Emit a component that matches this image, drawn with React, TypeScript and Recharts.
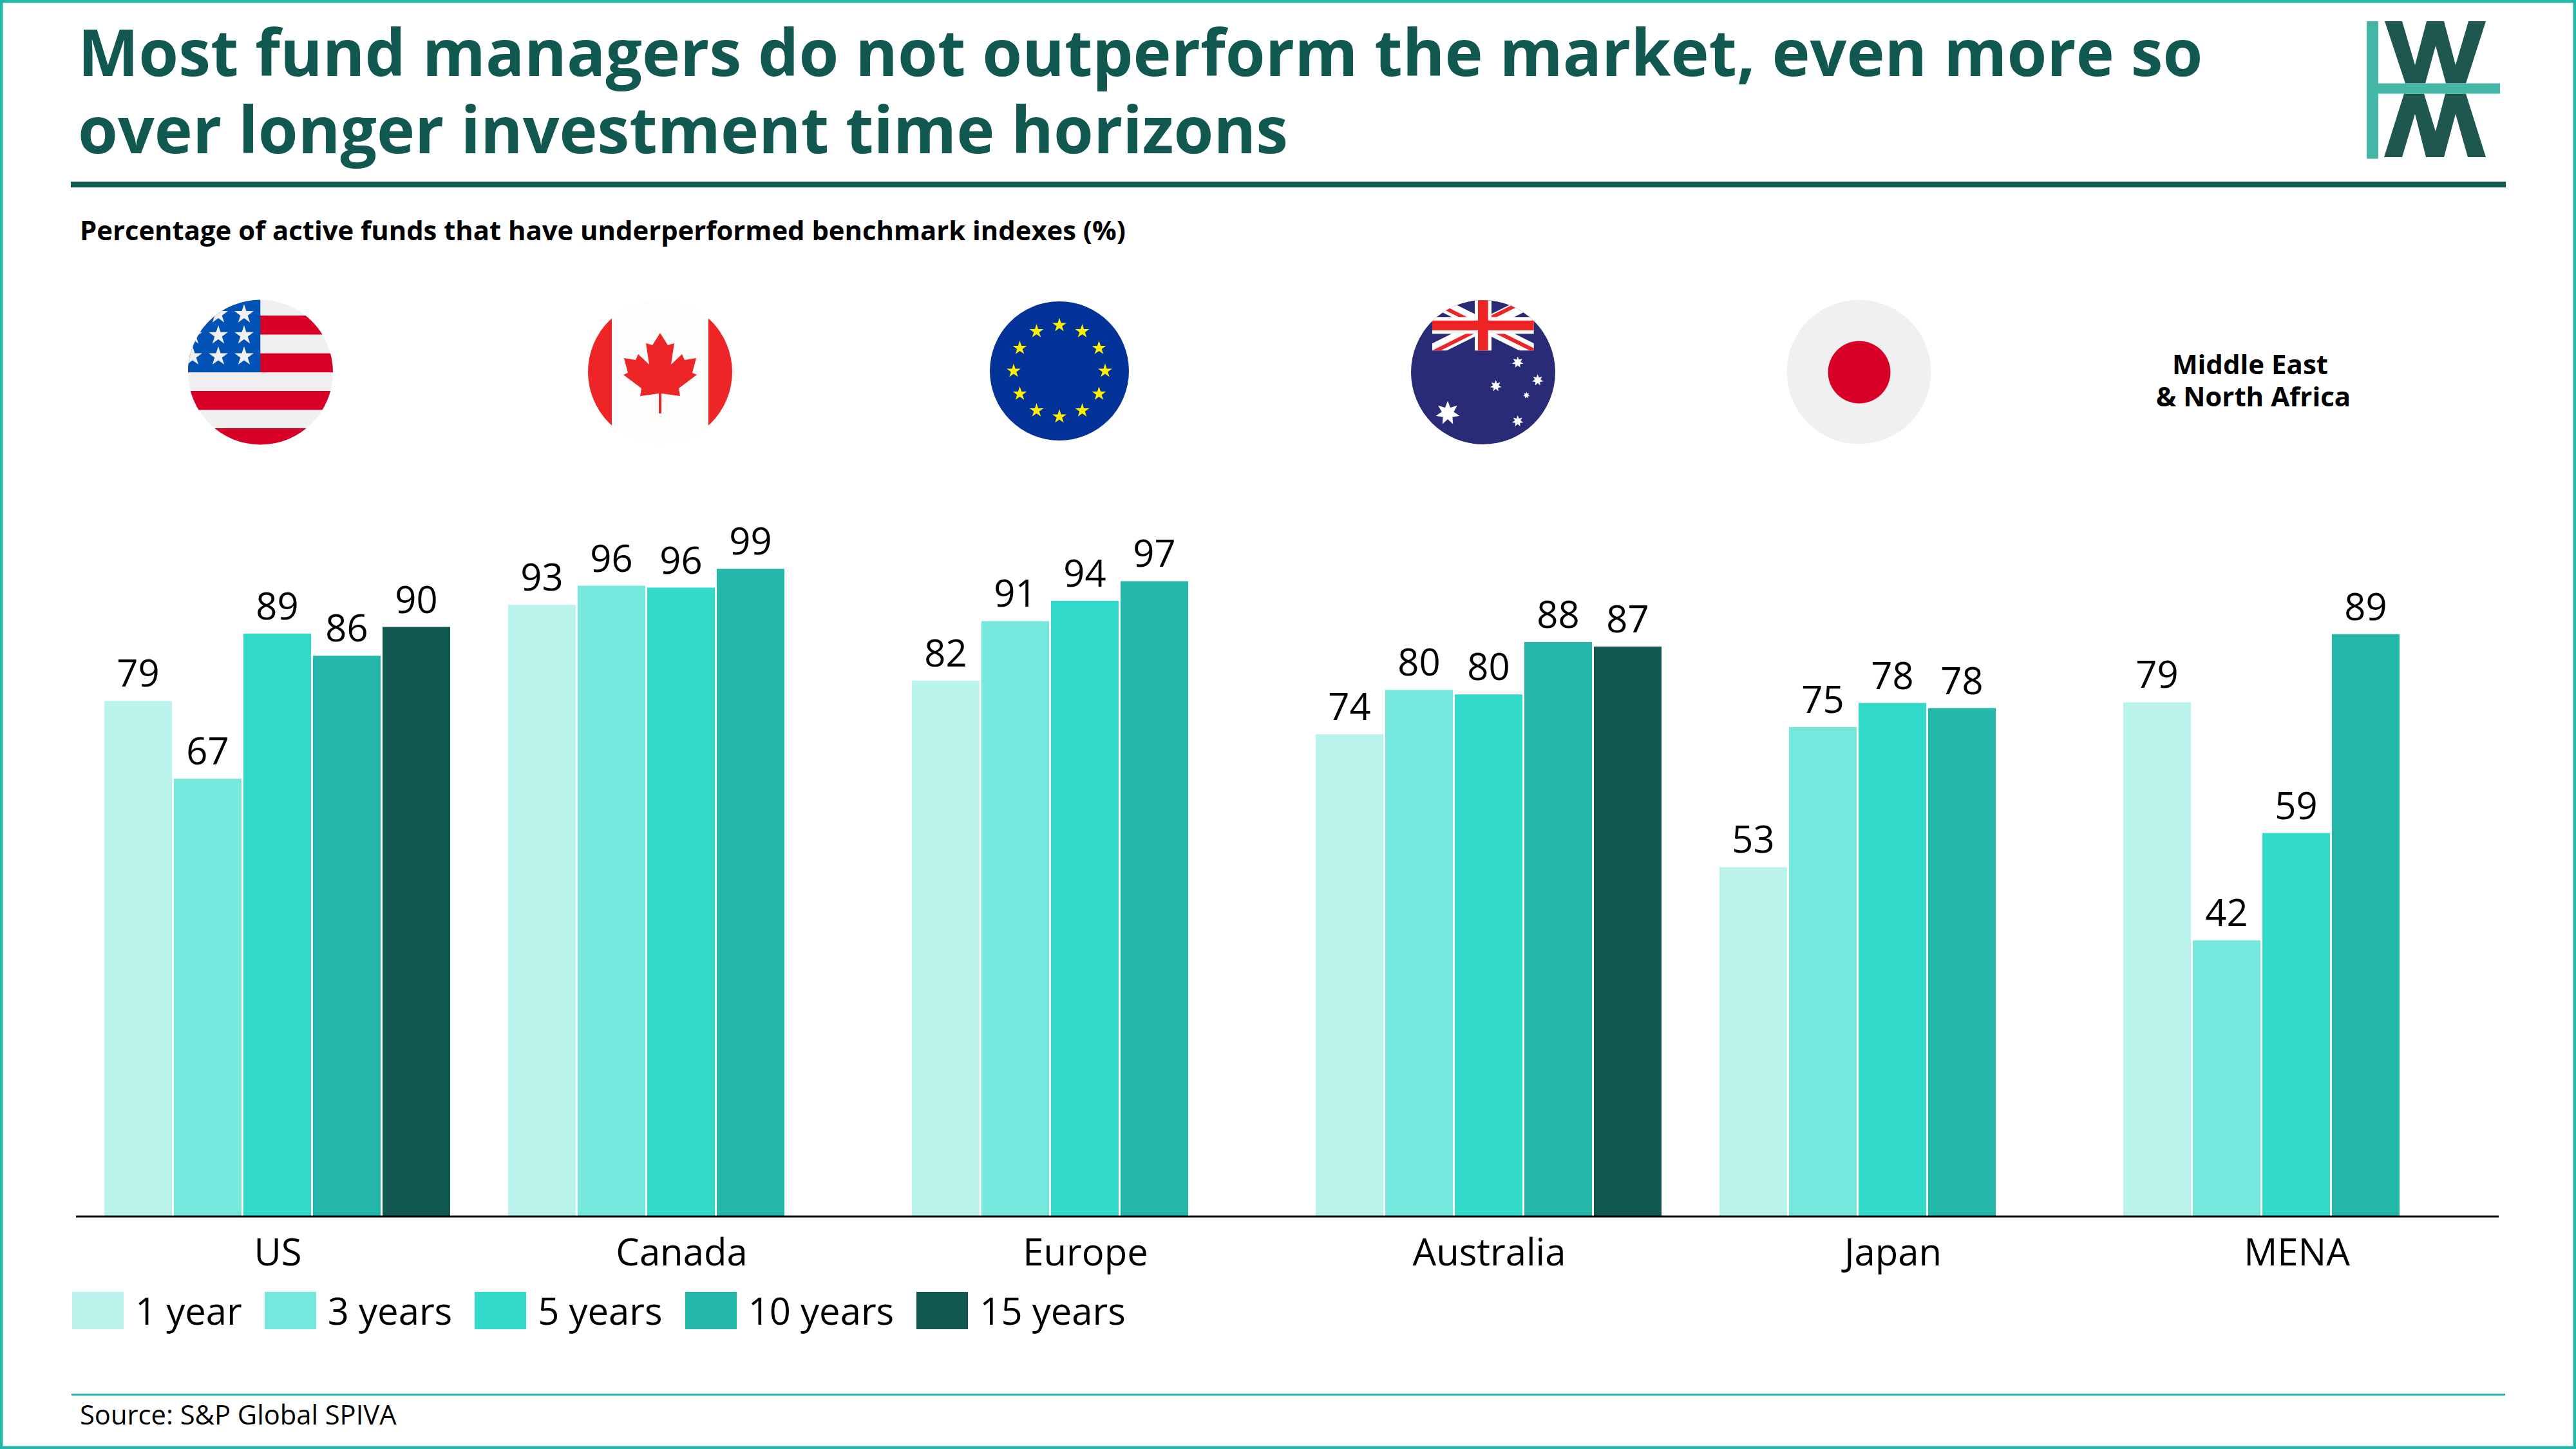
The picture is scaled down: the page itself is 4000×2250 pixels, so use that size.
import React from "react";
import { Bar, BarChart, LabelList, Legend, XAxis, YAxis } from "recharts";

const categories = ["US", "Canada", "Europe", "Australia", "Japan", "MENA"];
const oneYear = [78.8, 93.49, 81.9, 73.7, 53.4, 78.6];
const threeYears = [66.9, 96.4, 91.0, 80.49, 74.8, 42.2];
const fiveYears = [89.1, 96.1, 94.1, 79.8, 78.49, 58.6];
const tenYears = [85.7, 99.0, 97.1, 87.8, 77.7, 89.0];
const fifteenYears = [90.1, null, null, 87.1, null, null];

const seriesNames = ["1 year", "3 years", "5 years", "10 years", "15 years"];
const seriesValues = [oneYear, threeYears, fiveYears, tenYears, fifteenYears];
const seriesColors = ["#B9F3EC", "#75E8DD", "#32DAC9", "#22B7A8", "#115850"];

const chartData = categories.map((name, i) => {
  const row: Record<string, any> = { name };
  seriesNames.forEach((s, j) => {
    row[s] = seriesValues[j][i];
  });
  return row;
});

const FONT = "'Open Sans', sans-serif";
const DARK = "#115850";
const TEAL = "#22B8A9";

// star polygon, points = number of tips
const star = (cx: number, cy: number, r: number, points = 5, inner = 0.382) => {
  const out: string[] = [];
  for (let i = 0; i < points * 2; i++) {
    const rad = i % 2 === 0 ? r : r * inner;
    const a = -Math.PI / 2 + (i * Math.PI) / points;
    out.push(`${(cx + rad * Math.cos(a)).toFixed(1)},${(cy + rad * Math.sin(a)).toFixed(1)}`);
  }
  return out.join(" ");
};

const usStripes = [490, 548.7, 607, 665];
const usStarX = [299, 339, 379];
const usStarY = [488, 520.7, 553.4];
const euStars = Array.from({ length: 12 }, (_, i) => (i * Math.PI) / 6);
const auStars = [
  [2248, 641.5, 19],
  [2356.7, 562.7, 9],
  [2387.7, 590.3, 9],
  [2322.7, 599.3, 9],
  [2370.3, 613.7, 5.3],
  [2356.7, 654, 9],
];
const leafHalf = [
  [0, 517], [12, 536], [22, 533], [17, 566], [34, 550], [38, 559], [56, 556],
  [50, 579], [57, 582], [29, 603], [31, 615], [2, 611], [2, 642],
];
const leafPoints = [
  ...leafHalf.map(([dx, y]) => `${1025 + dx},${y}`),
  ...[...leafHalf].reverse().map(([dx, y]) => `${1025 - dx},${y}`),
].join(" ");

const Flags = () => (
  <g>
    <defs>
      <clipPath id="clipUs"><circle cx={404.5} cy={578} r={112.5} /></clipPath>
      <clipPath id="clipCa"><circle cx={1025} cy={577.5} r={112} /></clipPath>
      <clipPath id="clipAu"><circle cx={2303} cy={578} r={112} /></clipPath>
      <clipPath id="clipJack"><rect x={2224} y={460} width={157.7} height={84.3} /></clipPath>
    </defs>

    {/* US */}
    <g clipPath="url(#clipUs)">
      <rect x={290} y={460} width={230} height={235} fill="#F0F0F0" />
      {usStripes.map((y) => (
        <rect key={y} x={290} y={y} width={230} height={29.5} fill="#D80027" />
      ))}
      <rect x={290} y={460} width={114.3} height={118} fill="#0052B4" />
      {usStarY.map((y) =>
        usStarX.map((x) => <polygon key={`${x}-${y}`} points={star(x, y, 15.7)} fill="#F0F0F0" />)
      )}
    </g>

    {/* Canada */}
    <g clipPath="url(#clipCa)">
      <rect x={910} y={460} width={230} height={235} fill="#FFFCFC" />
      <rect x={910} y={460} width={40} height={235} fill="#EE2526" />
      <rect x={1100} y={460} width={40} height={235} fill="#EE2526" />
      <polygon points={leafPoints} fill="#EE2526" />
    </g>

    {/* Europe */}
    <circle cx={1645} cy={576} r={108} fill="#033399" />
    {euStars.map((a) => (
      <polygon
        key={a}
        points={star(1645 + 71 * Math.sin(a), 576 - 71 * Math.cos(a), 11.5)}
        fill="#FFF000"
      />
    ))}

    {/* Australia */}
    <g clipPath="url(#clipAu)">
      <rect x={2190} y={460} width={226} height={235} fill="#2A2B77" />
      <g clipPath="url(#clipJack)">
        <path d="M2224 466 L2381.7 544.3 M2381.7 466 L2224 544.3" stroke="#FFFFFF" strokeWidth={20} />
        <path
          d="M2205 459 L2290 501.5 M2224 547.5 L2296 511.5 M2310 496 L2390 456 M2310 508.5 L2381.7 544"
          stroke="#EE2526"
          strokeWidth={6}
        />
      </g>
      <rect x={2224} y={492.3} width={157.7} height={26} fill="#FFFFFF" />
      <rect x={2290} y={460} width={26} height={84.3} fill="#FFFFFF" />
      <rect x={2224} y={497.7} width={157.7} height={15.3} fill="#EE2526" />
      <rect x={2295} y={460} width={15.7} height={84.3} fill="#EE2526" />
      {auStars.map(([x, y, r]) => (
        <polygon key={`${x}-${y}`} points={star(x, y, r, 7, 0.5)} fill="#FFFFFF" />
      ))}
    </g>

    {/* Japan */}
    <circle cx={2886.5} cy={577.5} r={112} fill="#F0F0F0" />
    <circle cx={2887} cy={578} r={48.5} fill="#D80027" />

    {/* MENA has no flag, only a caption */}
    <text x={3494} y={581} textAnchor="middle" fontFamily={FONT} fontWeight={700} fontSize={42} fill="#000">
      Middle East
    </text>
    <text x={3499} y={631} textAnchor="middle" fontFamily={FONT} fontWeight={700} fontSize={42} fill="#000">
      &amp; North Africa
    </text>
  </g>
);

const Logo = () => (
  <g>
    <polygon
      fill="#1E574E"
      points="3703,33 3730,33 3750,101 3768,33 3795,33 3813,101 3833,33 3860,33 3829,129.5 3798,129.5 3782,71 3766,129.5 3735,129.5"
    />
    <polygon
      fill="#1E574E"
      points="3733,145.5 3764,145.5 3782,204 3797,145.5 3829,145.5 3860,244 3832,244 3813,177 3795,244 3767,244 3750,177 3730,244 3702,244"
    />
    <rect x={3675} y={33} width={18} height={213.5} fill="#43B6A6" />
    <rect x={3693} y={129.5} width={189} height={16} fill="#43B6A6" />
  </g>
);

const LegendContent = ({ payload }: any) => (
  <div style={{ display: "flex", alignItems: "center", fontFamily: FONT, fontSize: 58, color: "#000" }}>
    {(payload || []).map((entry: any) => (
      <div key={entry.value} style={{ display: "flex", alignItems: "center", marginRight: 35 }}>
        <div style={{ width: 80, height: 58, background: entry.color, marginRight: 18 }} />
        <span style={{ lineHeight: "58px" }}>{entry.value}</span>
      </div>
    ))}
  </div>
);

export default function App() {
  return (
    <div style={{ position: "absolute", left: 0, top: 0, width: 4000, height: 2250, background: "#fff", overflow: "hidden" }}>
      <div style={{ position: "absolute", left: 0, top: 0 }}>
        <BarChart
          width={4000}
          height={2250}
          data={chartData}
          margin={{ top: 873, right: 120, bottom: 301, left: 118 }}
          barCategoryGap={44}
          barGap={3}
        >
          <XAxis
            dataKey="name"
            height={60}
            interval={0}
            tickLine={false}
            tickSize={0}
            tickMargin={35}
            axisLine={{ stroke: "#000", strokeWidth: 3 }}
            tick={{ fill: "#000", fontSize: 58, fontFamily: FONT }}
          />
          <YAxis hide domain={[0, 100]} />
          <Legend
            layout="horizontal"
            verticalAlign="middle"
            itemSorter={null}
            wrapperStyle={{ position: "absolute", left: 112, top: 2006, width: 2000 }}
            content={<LegendContent />}
          />
          {seriesNames.map((s, i) => (
            <Bar key={s} dataKey={s} fill={seriesColors[i]} isAnimationActive={false}>
              <LabelList
                dataKey={s}
                position="top"
                offset={22}
                formatter={(v: any) => (v == null ? "" : Math.round(v))}
                style={{ fill: "#000", fontSize: 58, fontFamily: FONT }}
              />
            </Bar>
          ))}
        </BarChart>
      </div>

      <svg width={4000} height={2250} style={{ position: "absolute", left: 0, top: 0, pointerEvents: "none" }}>
        <rect x={2.25} y={2.25} width={3995.5} height={2245.5} fill="none" stroke={TEAL} strokeWidth={4.5} />
        <g fontFamily={FONT} fontWeight={700} fontSize={100} fill={DARK}>
          <text x={121} y={118}>Most fund managers do not outperform the market, even more so</text>
          <text x={121} y={238}>over longer investment time horizons</text>
        </g>
        <rect x={110} y={282} width={3781} height={9} fill={DARK} />
        <text x={124} y={373} fontFamily={FONT} fontWeight={700} fontSize={41.8} fill="#000">
          Percentage of active funds that have underperformed benchmark indexes (%)
        </text>
        <Logo />
        <Flags />
        <rect x={111} y={2164} width={3779} height={3} fill={TEAL} />
        <text x={124} y={2212} fontFamily={FONT} fontSize={41.7} fill="#000">
          Source: S&amp;P Global SPIVA
        </text>
      </svg>
    </div>
  );
}
